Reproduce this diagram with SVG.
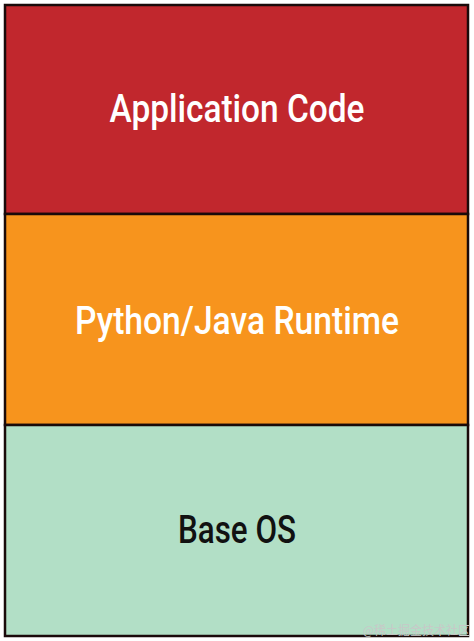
<svg xmlns="http://www.w3.org/2000/svg" width="474" height="641" viewBox="0 0 474 641">
<style>
.layer{stroke:#1a0a0a;stroke-width:2.5}
.lbl{font-family:"Roboto","Liberation Sans",sans-serif;font-size:38px;font-weight:500;text-anchor:middle}
.wm{font-family:"Noto Sans CJK SC",sans-serif;font-size:12px;fill:#c8c8c8;text-anchor:end}
</style>
<rect x="0" y="0" width="474" height="641" fill="#ffffff"/>
<g id="app">
<rect class="layer" x="5" y="5" width="463" height="209" fill="#C1272D"/>
<text class="lbl" x="237" y="122" fill="#ffffff" textLength="255" lengthAdjust="spacingAndGlyphs">Application Code</text>
</g>
<g id="runtime">
<rect class="layer" x="5" y="214" width="463" height="211" fill="#F7941D"/>
<text class="lbl" x="237" y="334" fill="#ffffff" textLength="324" lengthAdjust="spacingAndGlyphs">Python/Java Runtime</text>
</g>
<g id="os">
<rect class="layer" x="5" y="425" width="463" height="211" fill="#B2DFC6"/>
<text class="lbl" x="237" y="543" fill="#111111" textLength="118" lengthAdjust="spacingAndGlyphs">Base OS</text>
</g>
<g id="connectors"></g>
<text class="wm" x="470" y="635">@稀土掘金技术社区</text>
</svg>
